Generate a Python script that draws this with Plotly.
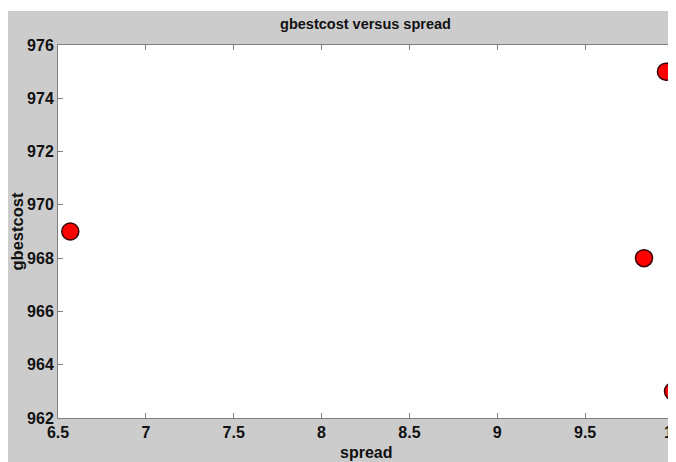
import plotly.graph_objects as go

spread = [6.57, 9.835, 9.96, 10.0]
gbestcost = [969, 968, 975, 963]
x_ticks = [6.5, 7, 7.5, 8, 8.5, 9, 9.5, 10]
x_labels = ["6.5", "7", "7.5", "8", "8.5", "9", "9.5", "10"]
y_ticks = [962, 964, 966, 968, 970, 972, 974, 976]

FONT = "Liberation Sans, Arial, sans-serif"
TXT = "#111111"
# page has an 8px body margin; figure coordinates are offset by it
W, H = 668, 462
L, T = 50, 37
pw, ph = 615, 373
R = W - L - pw
B = H - T - ph

fig = go.Figure()
fig.add_trace(go.Scatter(
    x=spread, y=gbestcost, mode="markers",
    marker=dict(size=17, color="#ff0000", line=dict(color="#3a0000", width=1.5)),
    cliponaxis=False, showlegend=False,
))

axis_common = dict(
    showline=True, linecolor="#808080", linewidth=1, mirror="ticks",
    ticks="inside", ticklen=5, tickcolor="#808080",
    showgrid=False, zeroline=False, ticklabeloverflow="allow", automargin=False,
    tickfont=dict(family=FONT, size=16, color=TXT, weight="bold"),
)

fig.update_layout(
    width=W, height=H,
    margin=dict(l=L, r=R, t=T, b=B, autoexpand=False),
    paper_bgcolor="#cccccc", plot_bgcolor="white",
    title=dict(text="gbestcost versus spread", x=(L + pw / 2) / W, xanchor="center",
               y=1 - 16 / H, yanchor="middle", yref="container",
               font=dict(family=FONT, size=14.5, color=TXT, weight="bold")),
    xaxis=dict(range=[6.5, 10], tickvals=x_ticks, ticktext=x_labels, **axis_common),
    yaxis=dict(range=[962, 976], tickvals=y_ticks, **axis_common),
    annotations=[
        dict(text="<b>spread</b>", xref="paper", yref="paper", showarrow=False,
             x=0.5, y=-(444 - (T + ph)) / ph, xanchor="center", yanchor="middle",
             font=dict(family=FONT, size=16, color=TXT)),
        dict(text="<b>gbestcost</b>", xref="paper", yref="paper", showarrow=False,
             x=(8 - L) / pw, y=0.5, xanchor="center", yanchor="middle", textangle=-90,
             font=dict(family=FONT, size=16.5, color=TXT)),
    ],
    shapes=[
        dict(type="rect", xref="paper", yref="paper", layer="below",
             x0=-L / pw - 0.01, x1=1 + R / pw + 0.01,
             y0=(T + ph - 3) / ph, y1=(T + ph) / ph + 0.01,
             fillcolor="white", line=dict(width=0)),
    ],
)

fig.write_html("out.html")
